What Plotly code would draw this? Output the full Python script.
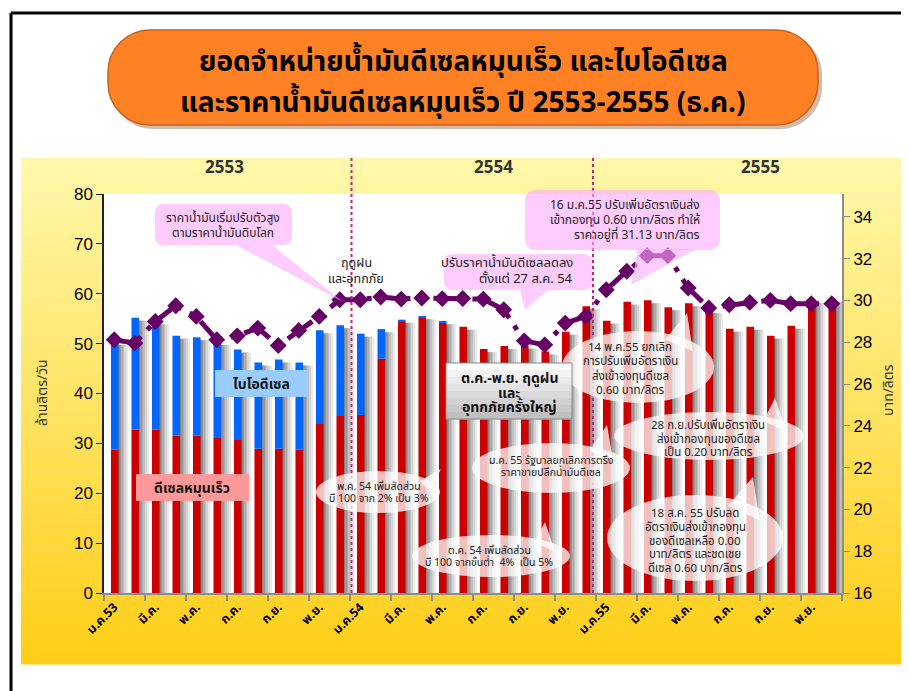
import math
import plotly.graph_objects as go

# ---- data ----
tick_labels = ['ม.ค.53', 'มี.ค.', 'พ.ค.', 'ก.ค.', 'ก.ย.', 'พ.ย.',
               'ม.ค.54', 'มี.ค.', 'พ.ค.', 'ก.ค.', 'ก.ย.', 'พ.ย.',
               'ม.ค.55', 'มี.ค.', 'พ.ค.', 'ก.ค.', 'ก.ย.', 'พ.ย.']

# ดีเซลหมุนเร็ว (ล้านลิตร/วัน), Jan 2553 .. Dec 2555
diesel = [28.7, 32.8, 32.8, 31.6, 31.6, 31.1, 30.7, 28.9, 28.9, 28.7, 33.9, 35.5,
          35.7, 47.0, 54.4, 55.2, 54.2, 53.4, 48.9, 49.5, 49.6, 48.4, 52.4, 57.5,
          54.6, 58.4, 58.7, 57.3, 58.1, 56.7, 53.0, 53.4, 51.6, 53.6, 58.7, 59.0]

# ไบโอดีเซล (ล้านลิตร/วัน), stacked above diesel
biodiesel = [21.6, 22.4, 21.7, 20.0, 19.7, 19.2, 18.1, 17.3, 17.9, 17.5, 18.8, 18.2,
             16.3, 5.9, 0.4, 0.3, 0.3, 0, 0, 0, 0, 0, 0, 0,
             0, 0, 0, 0, 0, 0, 0, 0, 0, 0, 0, 0]

# ราคาน้ำมันดีเซลหมุนเร็ว (บาท/ลิตร)
price = [28.12, 27.96, 29.0, 29.75, 29.24, 28.12, 28.31, 28.68, 27.85, 28.57, 29.24, 30.04,
         30.04, 30.17, 30.07, 30.12, 30.09, 30.1, 30.07, 29.56, 28.07, 27.88, 28.92, 29.24,
         30.52, 31.4, 32.15, 32.15, 30.6, 29.64, 29.8, 29.91, 30.01, 29.85, 29.85, 29.85]

years = ['2553', '2554', '2555']

months = list(range(len(diesel)))
totals = [d + b for d, b in zip(diesel, biodiesel)]

# ---- pixel helpers: screen pixels of the 909x691 shot, plot area 104..842 x 194..593 ----
# the html page has an 8px body margin, so the figure itself is 8px smaller
OFF = 8
W, H = 909, 691
L, R, T, B = 104, 842, 194, 593


def px(x):
    return (x - L) / (R - L)


def py(y):
    return (B - y) / (B - T)


def rounded_path(x0, y0, x1, y1, r):
    k = 0.55 * r
    p = lambda x, y: f'{px(x):.5f},{py(y):.5f}'
    return (f'M{p(x0 + r, y0)} L{p(x1 - r, y0)} C{p(x1 - r + k, y0)} {p(x1, y0 + r - k)} {p(x1, y0 + r)} '
            f'L{p(x1, y1 - r)} C{p(x1, y1 - r + k)} {p(x1 - r + k, y1)} {p(x1 - r, y1)} '
            f'L{p(x0 + r, y1)} C{p(x0 + r - k, y1)} {p(x0, y1 - r + k)} {p(x0, y1 - r)} '
            f'L{p(x0, y0 + r)} C{p(x0, y0 + r - k)} {p(x0 + r - k, y0)} {p(x0 + r, y0)} Z')


def tri_path(a, b, c):
    return 'M{} L{} L{} Z'.format(*[f'{px(x):.5f},{py(y):.5f}' for x, y in (a, b, c)])


def rect(x0, y0, x1, y1, color, layer='below', line=None):
    return dict(type='rect', xref='paper', yref='paper', x0=px(x0), x1=px(x1), y0=py(y1), y1=py(y0),
                fillcolor=color, line=line or dict(width=0), layer=layer)


fig = go.Figure()

# bar shadows (gray fading to the right of each bar)
shade = ['#858585', '#989898', '#acacac', '#c0c0c0', '#d5d5d5', '#e9e9e9']
for i, c in enumerate(shade):
    fig.add_trace(go.Bar(x=months, y=[t - 0.6 for t in totals], width=0.078, offset=0.21 + 0.078 * i,
                         marker=dict(color=c, line=dict(width=0)), hoverinfo='skip', showlegend=False))

fig.add_trace(go.Bar(x=months, y=diesel, width=0.37, offset=-0.16, name='ดีเซลหมุนเร็ว',
                     marker=dict(color='#CC0000', line=dict(width=0))))
fig.add_trace(go.Bar(x=months, y=biodiesel, base=diesel, width=0.37, offset=-0.16, name='ไบโอดีเซล',
                     marker=dict(color='#0066FF', line=dict(width=0))))
fig.add_trace(go.Scatter(x=months, y=price, yaxis='y2', mode='lines+markers', name='ราคา',
                         line=dict(color='#660066', width=5, dash='30px,9px,5px,9px'),
                         marker=dict(symbol='diamond', size=13, color='#660066')))

shapes = []

# outer frame
shapes.append(dict(type='line', xref='paper', yref='paper', x0=px(11), x1=px(11), y0=py(13), y1=py(H + 5),
                   line=dict(color='black', width=3)))
shapes.append(dict(type='line', xref='paper', yref='paper', x0=px(11), x1=px(W + 5), y0=py(13), y1=py(13),
                   line=dict(color='black', width=3)))

# yellow gradient background of the chart area
n = 40
top_c, bot_c = (255, 248, 172), (255, 205, 22)
for k in range(n):
    y0 = 158 + (664 - 158) * k / n
    y1 = 158 + (664 - 158) * (k + 1) / n + 0.6
    f = (k + 0.5) / n
    col = 'rgb({},{},{})'.format(*[round(a + (b - a) * f) for a, b in zip(top_c, bot_c)])
    shapes.append(rect(21, y0, W + 2, y1, col))
shapes.append(rect(L, T, R, B, 'white'))

# title pill
shapes.append(dict(type='path', xref='paper', yref='paper', path=rounded_path(111, 33, 822, 129, 42),
                   fillcolor='rgba(120,60,20,0.35)', line=dict(width=0), layer='below'))
shapes.append(dict(type='path', xref='paper', yref='paper', path=rounded_path(108, 30, 818, 125, 42),
                   fillcolor='#FF8124', line=dict(color='#C8601A', width=1.5), layer='below'))

# year separators
for xv in (351.5, 593):
    shapes.append(dict(type='line', xref='paper', yref='paper', x0=px(xv), x1=px(xv), y0=py(158), y1=py(B),
                       line=dict(color='#CC2277', width=2, dash='dot'), layer='above'))

# pink callouts
pink = 'rgba(255,170,255,0.6)'
shapes.append(dict(type='path', xref='paper', yref='paper', path=rounded_path(155, 204, 292, 245, 8),
                   fillcolor=pink, line=dict(width=0), layer='above'))
shapes.append(dict(type='path', xref='paper', yref='paper', path=tri_path((236, 245), (343, 302), (272, 245)),
                   fillcolor=pink, line=dict(width=0), layer='above'))
shapes.append(dict(type='path', xref='paper', yref='paper', path=rounded_path(444, 254, 592, 290, 8),
                   fillcolor=pink, line=dict(width=0), layer='above'))
shapes.append(dict(type='path', xref='paper', yref='paper', path=tri_path((520, 290), (525, 310), (548, 290)),
                   fillcolor=pink, line=dict(width=0), layer='above'))
shapes.append(dict(type='path', xref='paper', yref='paper', path=rounded_path(525, 190, 720, 250, 10),
                   fillcolor=pink, line=dict(width=0), layer='above'))
shapes.append(dict(type='path', xref='paper', yref='paper', path=tri_path((638, 249), (631, 285), (696, 249)),
                   fillcolor=pink, line=dict(width=0), layer='above'))

# white speech ellipses: (cx, cy, w, h, tip)
white = 'rgba(255,255,255,0.75)'
ellipses = [
    (378, 492, 124, 42, (441, 469)),
    (491, 556, 158, 42, (545, 522)),
    (551, 468, 158, 50, (607, 425)),
    (638, 367, 152, 72, (687, 313)),
    (709, 436, 190, 48, (775, 398)),
    (695, 538, 176, 86, (753, 477)),
]
for cx, cy, w, h, tip in ellipses:
    shapes.append(dict(type='circle', xref='paper', yref='paper', x0=px(cx - w / 2), x1=px(cx + w / 2),
                       y0=py(cy + h / 2), y1=py(cy - h / 2), fillcolor=white, line=dict(width=0), layer='above'))
    ang = math.atan2(tip[1] - cy, tip[0] - cx)
    a = (cx + 0.42 * w * math.cos(ang - 0.3), cy + 0.42 * h * math.sin(ang - 0.3))
    b = (cx + 0.42 * w * math.cos(ang + 0.3), cy + 0.42 * h * math.sin(ang + 0.3))
    shapes.append(dict(type='path', xref='paper', yref='paper', path=tri_path(a, tip, b),
                       fillcolor=white, line=dict(width=0), layer='above'))

# gray flood box
for k in range(8):
    y0 = 363 + 56 * k / 8
    g = round(252 - 60 * k / 7)
    shapes.append(rect(446, y0, 572, y0 + 7.6, f'rgb({g},{g},{g})', layer='above'))
shapes.append(rect(446, 363, 572, 419, 'rgba(0,0,0,0)', layer='above', line=dict(color='#8a8a8a', width=1)))

# legend-like boxes
shapes.append(rect(215, 370, 308, 397, '#99CCFF', layer='above'))
shapes.append(rect(136, 474, 249, 501, '#FF9999', layer='above'))

THAI = 'Tahoma, "Noto Sans Thai", "Noto Sans", "DejaVu Sans", sans-serif'
annotations = []


def note(x, y, text, size=11.5, color='#222', bold=False, xanchor='center', angle=0, step=None):
    # one annotation per line so the line spacing can follow the reference
    lines = text.split('<br>')
    step = step or size * 1.25
    for i, ln in enumerate(lines):
        yy = y + (i - (len(lines) - 1) / 2) * step
        annotations.append(dict(xref='paper', yref='paper', x=px(x), y=py(yy),
                                text='<b>' + ln + '</b>' if bold else ln, showarrow=False,
                                font=dict(family=THAI, size=size, color=color), borderpad=0,
                                xanchor=xanchor, yanchor='middle', textangle=angle))


note(463, 62, 'ยอดจำหน่ายน้ำมันดีเซลหมุนเร็ว และไบโอดีเซล', size=28, color='black', bold=True)
note(463, 104, 'และราคาน้ำมันดีเซลหมุนเร็ว ปี 2553-2555 (ธ.ค.)', size=28, color='black', bold=True)

for xv, yr in zip((224, 493, 760), years):
    note(xv, 168, yr, size=17, color='#333', bold=True)

note(42, 393, 'ล้านลิตร/วัน', size=14, color='#333', angle=-90)
note(888, 390, 'บาท/ลิตร', size=14, color='#333', angle=-90)

note(223, 225, 'ราคาน้ำมันเริ่มปรับตัวสูง<br>ตามราคาน้ำมันดิบโลก', size=12, step=15)
note(356, 271, 'ฤดูฝน<br>และอุทกภัย', size=12.5, step=16)
note(574, 271, 'ปรับราคาน้ำมันดีเซลลดลง<br>ตั้งแต่ 27 ส.ค. 54', size=13, xanchor='right', step=16)
note(701, 220, '16 ม.ค.55 ปรับเพิ่มอัตราเงินส่ง<br>เข้ากองทุน 0.60 บาท/ลิตร ทำให้<br>ราคาอยู่ที่ 31.13 บาท/ลิตร',
     size=12, xanchor='right', step=15)
note(509, 393, 'ต.ค.-พ.ย. ฤดูฝน<br>และ<br>อุทกภัยครั้งใหญ่', size=14, color='#111', bold=True, step=14.5)
note(261, 384, 'ไบโอดีเซล', size=14, color='#111', bold=True)
note(192, 488, 'ดีเซลหมุนเร็ว', size=14, color='#111', bold=True)

note(379, 493, 'พ.ค. 54 เพิ่มสัดส่วน<br>บี 100 จาก 2% เป็น 3%', size=10.5, step=12)
note(489, 557, 'ต.ค. 54 เพิ่มสัดส่วน<br>บี 100 จากขั้นต่ำ  4%  เป็น 5%', size=10.5, step=12)
note(551, 467, 'ม.ค. 55 รัฐบาลยกเลิกการตรึง<br>ราคาขายปลีกน้ำมันดีเซล', size=10.5, step=12)
note(630, 369, '14 พ.ค.55 ยกเลิก<br>การปรับเพิ่มอัตราเงิน<br>ส่งเข้าองทุนดีเซล<br>0.60 บาท/ลิตร', size=11.5, step=14.5)
note(708, 439, '28 ก.ย.ปรับเพิ่มอัตราเงิน<br>ส่งเข้ากองทุนของดีเซล<br>เป็น 0.20 บาท/ลิตร', size=11.5, step=13.5)
note(695, 541, '18 ส.ค. 55 ปรับลด<br>อัตราเงินส่งเข้ากองทุน<br>ของดีเซลเหลือ 0.00<br>บาท/ลิตร และชดเชย<br>ดีเซล 0.60 บาท/ลิตร',
     size=11.5, step=13.8)

fig.update_layout(
    width=W - OFF, height=H - OFF,
    margin=dict(l=L - OFF, r=W - R, t=T - OFF, b=H - B, pad=0),
    paper_bgcolor='white',
    plot_bgcolor='rgba(0,0,0,0)',
    barmode='overlay',
    showlegend=False,
    shapes=shapes,
    annotations=annotations,
    xaxis=dict(range=[-0.5, 35.5], tickvals=months[::2], ticktext=['<b>' + t + '</b>' for t in tick_labels],
               tickangle=-45, ticks='', showgrid=False, zeroline=False,
               showline=True, linecolor='#8c8c8c', linewidth=2,
               tickfont=dict(family=THAI, size=12.5, color='black'),
               minor=dict(tick0=-0.5, dtick=2, ticks='outside', ticklen=6, tickcolor='#8c8c8c', tickwidth=2)),
    yaxis=dict(range=[0, 80], dtick=10, showgrid=False, zeroline=False, showline=True,
               linecolor='#222', linewidth=1.5, ticks='outside', ticklen=6, tickcolor='#222',
               tickfont=dict(family='Liberation Sans, Arial', size=17, color='black')),
    yaxis2=dict(range=[16, 35.1], tickvals=list(range(16, 35, 2)), overlaying='y', side='right',
                showgrid=False, zeroline=False, showline=True, linecolor='#8c8c8c', linewidth=2,
                ticks='outside', ticklen=6, tickcolor='#8c8c8c',
                tickfont=dict(family='Liberation Sans, Arial', size=17, color='black')),
)

fig.write_html('out.html')
